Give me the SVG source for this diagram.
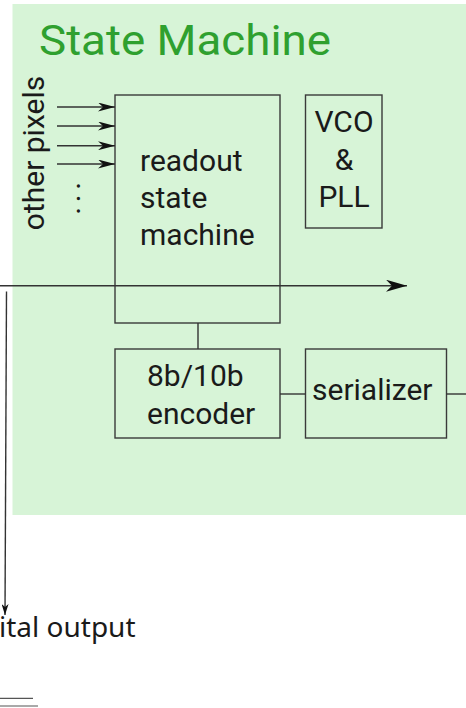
<svg xmlns="http://www.w3.org/2000/svg" width="466" height="708" viewBox="0 0 466 708">
<style>
.box{fill:none;stroke:#3a3a3a;stroke-width:1.4}
.t{font-family:Roboto,"Liberation Sans",sans-serif;font-size:30px;fill:#1a1a1a}
.c{stroke:#333;stroke-width:1.4;fill:none}
</style>
<defs>
<marker id="as" viewBox="0 0 17 9" refX="17" refY="4.5" markerWidth="17" markerHeight="9" markerUnits="userSpaceOnUse" orient="auto"><path d="M0,0 L17,4.5 L0,9 L5,4.5 z" fill="#111"/></marker>
<marker id="al" viewBox="0 0 21 12" refX="21" refY="6" markerWidth="21" markerHeight="12" markerUnits="userSpaceOnUse" orient="auto"><path d="M0,0 L21,6 L0,12 L6,6 z" fill="#111"/></marker>
<marker id="ad" viewBox="0 0 11 7" refX="11" refY="3.5" markerWidth="11" markerHeight="7" markerUnits="userSpaceOnUse" orient="auto"><path d="M0,0 L11,3.5 L0,7 L3,3.5 z" fill="#111"/></marker>
</defs>
<rect id="bg" x="12.5" y="4" width="454" height="511" fill="#d7f4d7"/>
<g id="title"><text x="39" y="54.5" font-family="Roboto,'Liberation Sans',sans-serif" font-size="42" fill="#2fa02f" textLength="292" lengthAdjust="spacingAndGlyphs">State Machine</text></g>
<g id="other-pixels">
<text class="t" text-anchor="middle" transform="translate(44,153) rotate(-90)">other pixels</text>
<text class="t" text-anchor="middle" letter-spacing="4.6" transform="translate(80,196) rotate(-90)">...</text>
</g>
<g id="readout">
<rect class="box" x="115" y="95" width="165" height="228"/>
<text class="t" x="140" y="171">readout</text>
<text class="t" x="140" y="207.5">state</text>
<text class="t" x="140" y="245">machine</text>
</g>
<g id="vco">
<rect class="box" x="305.5" y="95" width="76.5" height="133"/>
<text class="t" x="344" y="131.7" text-anchor="middle">VCO</text>
<text class="t" x="344" y="170" text-anchor="middle">&amp;</text>
<text class="t" x="344" y="206.7" text-anchor="middle">PLL</text>
</g>
<g id="encoder">
<rect class="box" x="115" y="349" width="165" height="89"/>
<text class="t" x="147" y="385.7">8b/10b</text>
<text class="t" x="147" y="424">encoder</text>
</g>
<g id="serializer">
<rect class="box" x="305.5" y="349" width="141" height="89"/>
<text class="t" x="312" y="400">serializer</text>
</g>
<g id="output-label">
<text x="-1" y="636.7" font-family="'Noto Sans','Open Sans',sans-serif" font-size="28" fill="#1a1a1a">ital output</text>
</g>
<g id="connectors">
<line class="c" x1="57" y1="107" x2="115" y2="107" marker-end="url(#as)"/>
<line class="c" x1="57" y1="126" x2="115" y2="126" marker-end="url(#as)"/>
<line class="c" x1="57" y1="145.7" x2="115" y2="145.7" marker-end="url(#as)"/>
<line class="c" x1="57" y1="164" x2="115" y2="164" marker-end="url(#as)"/>
<line class="c" x1="0" y1="285.7" x2="407" y2="285.7" marker-end="url(#al)"/>
<line class="c" x1="198" y1="323" x2="198" y2="349"/>
<line class="c" x1="280" y1="394" x2="305.5" y2="394"/>
<line class="c" x1="446.5" y1="394" x2="466" y2="394"/>
<line class="c" x1="6.5" y1="291.5" x2="5" y2="615" marker-end="url(#ad)"/>
<line x1="0" y1="698.3" x2="33" y2="698.3" stroke="#555" stroke-width="1.2"/>
<line x1="0" y1="706" x2="38" y2="706" stroke="#555" stroke-width="1.2"/>
</g>
</svg>
